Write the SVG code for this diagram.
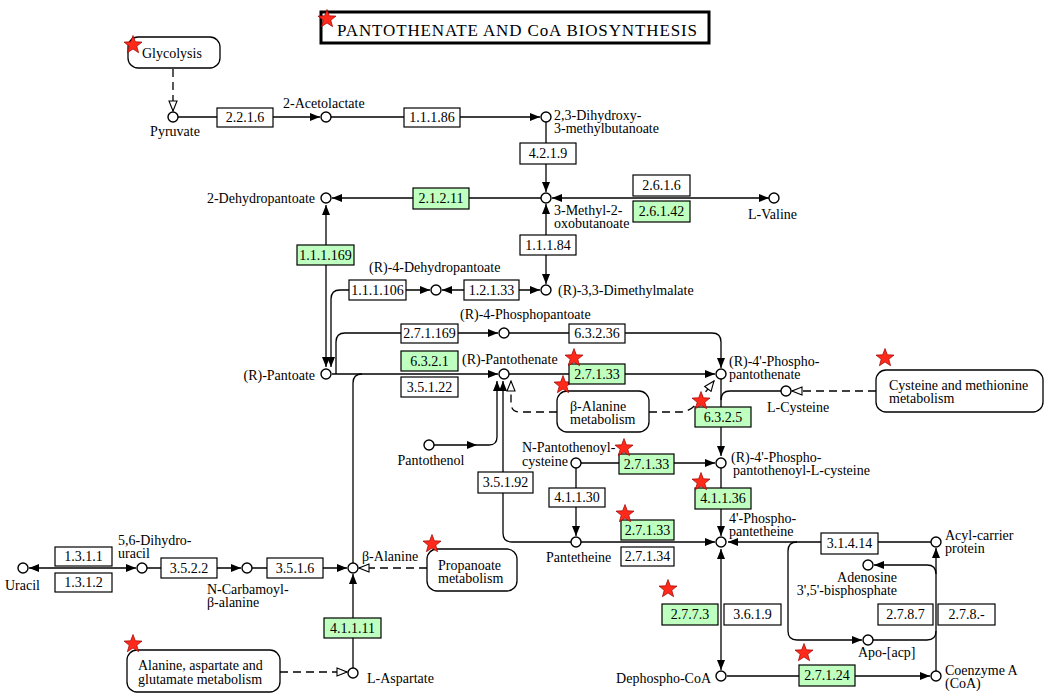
<svg xmlns="http://www.w3.org/2000/svg" xmlns:xlink="http://www.w3.org/1999/xlink" width="1050" height="698" viewBox="0 0 1050 698">
<style>
text{font-family:"Liberation Serif","Times New Roman",serif;font-size:14px;fill:#000}
.c{text-anchor:middle}
.e{text-anchor:end}
.ln{fill:none;stroke:#000;stroke-width:1.3}
.ds{fill:none;stroke:#000;stroke-width:1.3;stroke-dasharray:8,5}
.cp{fill:#fff;stroke:#000;stroke-width:1.4}
.ez{fill:#fff;stroke:#000;stroke-width:1.2}
.g{fill:#bfffbf}
.mp{fill:#fff;stroke:#000;stroke-width:1.3}
.st{fill:#ff2a1a;stroke:#9a0000;stroke-width:0.7}
</style>
<defs>
<marker id="a" viewBox="0 0 10 8" refX="10" refY="4" markerWidth="10" markerHeight="8" markerUnits="userSpaceOnUse" orient="auto-start-reverse"><path d="M0,0L10,4L0,8z" fill="#000"/></marker>
<marker id="o" viewBox="0 0 12 10" refX="11" refY="5" markerWidth="12" markerHeight="10" markerUnits="userSpaceOnUse" orient="auto"><path d="M1,1L11,5L1,9z" fill="#fff" stroke="#000" stroke-width="1.1"/></marker>
<path id="star" class="st" d="M0,-9.5L2.35,-3.2L9,-2.9L3.8,1.25L5.6,7.7L0,4L-5.6,7.7L-3.8,1.25L-9,-2.9L-2.35,-3.2Z"/>
</defs>
<rect width="1050" height="698" fill="#fff"/>

<g id="connectors">
<path class="ds" d="M173,69V111" marker-end="url(#o)"/>
<path class="ln" d="M178,117H320" marker-end="url(#a)"/>
<path class="ln" d="M331,117H540" marker-end="url(#a)"/>
<path class="ln" d="M546,122V192" marker-end="url(#a)"/>
<path class="ln" d="M541,198H332" marker-end="url(#a)"/>
<path class="ln" d="M552,198H769" marker-start="url(#a)" marker-end="url(#a)"/>
<path class="ln" d="M326,205V367" marker-start="url(#a)" marker-end="url(#a)"/>
<path class="ln" d="M546,204V284" marker-start="url(#a)" marker-end="url(#a)"/>
<path class="ln" d="M442,290H540" marker-start="url(#a)" marker-end="url(#a)"/>
<path class="ln" d="M331,367V299Q331,290 340,290H430" marker-start="url(#a)" marker-end="url(#a)"/>
<path class="ln" d="M332,374H498" marker-end="url(#a)"/>
<path class="ln" d="M336,374V342Q336,333 345,333H498" marker-end="url(#a)"/>
<path class="ln" d="M509,333H712Q721,333 721,342V368" marker-end="url(#a)"/>
<path class="ln" d="M362,374Q353,374 353,383V563"/>
<path class="ln" d="M509,374H715" marker-end="url(#a)"/>
<path class="ln" d="M434,445H477" marker-end="url(#a)"/>
<path class="ln" d="M477,445H489Q497,445 497,437V381" marker-end="url(#a)"/>
<path class="ln" d="M571,542H512Q503,542 503,533V381" marker-end="url(#a)"/>
<path class="ds" d="M557,412H520Q511,412 511,403V381" marker-end="url(#o)"/>
<path class="ds" d="M649,412H680Q690,412 697,403L714,381" marker-end="url(#o)"/>
<path class="ln" d="M721,379V456" marker-end="url(#a)"/>
<path class="ln" d="M781,391H730Q721,391 721,400"/>
<path class="ds" d="M876,391H792" marker-end="url(#o)"/>
<path class="ln" d="M581,463H715" marker-end="url(#a)"/>
<path class="ln" d="M576,468V536" marker-end="url(#a)"/>
<path class="ln" d="M721,468V536" marker-end="url(#a)"/>
<path class="ln" d="M581,542H715" marker-end="url(#a)"/>
<path class="ln" d="M931,542H728" marker-end="url(#a)"/>
<path class="ln" d="M721,549V670" marker-start="url(#a)" marker-end="url(#a)"/>
<path class="ln" d="M797,542Q788,542 788,551V631Q788,640 797,640H862" marker-end="url(#a)"/>
<path class="ln" d="M873,640H927Q936,640 936,631"/>
<path class="ln" d="M936,574Q936,565 927,565H874" marker-end="url(#a)"/>
<path class="ln" d="M936,671V548" marker-end="url(#a)"/>
<path class="ln" d="M727,676H930" marker-end="url(#a)"/>
<path class="ln" d="M29,568H136" marker-start="url(#a)" marker-end="url(#a)"/>
<path class="ln" d="M147,568H241" marker-end="url(#a)"/>
<path class="ln" d="M252,568H347" marker-end="url(#a)"/>
<path class="ln" d="M353,668V574" marker-end="url(#a)"/>
<path class="ds" d="M427,568H359" marker-end="url(#o)"/>
<path class="ds" d="M280,672H347" marker-end="url(#o)"/>
</g>

<g id="title"><rect x="321" y="12" width="388" height="31" fill="#fff" stroke="#000" stroke-width="3"/><text x="337" y="36" style="font-size:17px" textLength="360" lengthAdjust="spacing">PANTOTHENATE AND CoA BIOSYNTHESIS</text><use href="#star" x="327" y="19"/></g>

<!-- map boxes -->
<g id="map-glycolysis"><rect class="mp" x="128" y="37" width="92" height="31" rx="10"/><text x="142" y="58">Glycolysis</text><use href="#star" x="133" y="45"/></g>
<g id="map-balanine"><rect class="mp" x="557" y="391" width="92" height="41" rx="10"/><text x="570" y="411">β-Alanine</text><text x="570" y="424">metabolism</text><use href="#star" x="563" y="385"/></g>
<g id="map-cysteine"><rect class="mp" x="876" y="370" width="167" height="42" rx="10"/><text x="889" y="390">Cysteine and methionine</text><text x="889" y="403">metabolism</text><use href="#star" x="885" y="358"/></g>
<g id="map-propanoate"><rect class="mp" x="427" y="549" width="90" height="42" rx="10"/><text x="438" y="570">Propanoate</text><text x="438" y="583">metabolism</text><use href="#star" x="432" y="544"/></g>
<g id="map-alanine"><rect class="mp" x="127" y="650" width="153" height="42" rx="10"/><text x="138" y="670">Alanine, aspartate and</text><text x="138" y="684">glutamate metabolism</text><use href="#star" x="133" y="644"/></g>

<!-- enzymes -->
<g id="ec-2.2.1.6"><rect class="ez" x="217" y="108" width="56" height="19"/><text class="c" x="245" y="122">2.2.1.6</text></g>
<g id="ec-1.1.1.86"><rect class="ez" x="404" y="108" width="56" height="19"/><text class="c" x="432" y="122">1.1.1.86</text></g>
<g id="ec-4.2.1.9"><rect class="ez" x="520" y="143" width="56" height="21"/><text class="c" x="548" y="158">4.2.1.9</text></g>
<g id="ec-2.6.1.6"><rect class="ez" x="633" y="175" width="57" height="21"/><text class="c" x="661.5" y="190">2.6.1.6</text></g>
<g id="ec-2.6.1.42"><rect class="ez g" x="633" y="201" width="57" height="21"/><text class="c" x="661.5" y="216">2.6.1.42</text></g>
<g id="ec-2.1.2.11"><rect class="ez g" x="413" y="188" width="56" height="21"/><text class="c" x="441" y="203">2.1.2.11</text></g>
<g id="ec-1.1.1.169"><rect class="ez g" x="297" y="245" width="57" height="20"/><text class="c" x="325.5" y="260">1.1.1.169</text></g>
<g id="ec-1.1.1.84"><rect class="ez" x="520" y="235" width="56" height="20"/><text class="c" x="548" y="250">1.1.1.84</text></g>
<g id="ec-1.1.1.106"><rect class="ez" x="349" y="280" width="57" height="20"/><text class="c" x="377.5" y="295">1.1.1.106</text></g>
<g id="ec-1.2.1.33"><rect class="ez" x="464" y="280" width="55" height="20"/><text class="c" x="491.5" y="295">1.2.1.33</text></g>
<g id="ec-2.7.1.169"><rect class="ez" x="401" y="324" width="57" height="19"/><text class="c" x="429.5" y="338">2.7.1.169</text></g>
<g id="ec-6.3.2.36"><rect class="ez" x="569" y="324" width="56" height="19"/><text class="c" x="597" y="338">6.3.2.36</text></g>
<g id="ec-6.3.2.1"><rect class="ez g" x="401" y="351" width="57" height="20"/><text class="c" x="429.5" y="366">6.3.2.1</text></g>
<g id="ec-3.5.1.22"><rect class="ez" x="401" y="377" width="57" height="20"/><text class="c" x="429.5" y="392">3.5.1.22</text></g>
<g id="ec-2.7.1.33-a"><rect class="ez g" x="569" y="364" width="56" height="20"/><text class="c" x="597" y="379">2.7.1.33</text><use href="#star" x="574" y="358"/></g>
<g id="ec-6.3.2.5"><rect class="ez g" x="695" y="407" width="56" height="20"/><text class="c" x="723" y="422">6.3.2.5</text><use href="#star" x="701" y="401"/></g>
<g id="ec-2.7.1.33-b"><rect class="ez g" x="619" y="454" width="55" height="20"/><text class="c" x="646.5" y="469">2.7.1.33</text><use href="#star" x="624" y="448"/></g>
<g id="ec-4.1.1.30"><rect class="ez" x="549" y="488" width="56" height="19"/><text class="c" x="577" y="502">4.1.1.30</text></g>
<g id="ec-3.5.1.92"><rect class="ez" x="478" y="472" width="55" height="21"/><text class="c" x="505.5" y="487">3.5.1.92</text></g>
<g id="ec-4.1.1.36"><rect class="ez g" x="695" y="488" width="56" height="21"/><text class="c" x="723" y="503">4.1.1.36</text><use href="#star" x="701" y="482"/></g>
<g id="ec-2.7.1.33-c"><rect class="ez g" x="621" y="520" width="53" height="20"/><text class="c" x="647.5" y="535">2.7.1.33</text><use href="#star" x="625" y="514"/></g>
<g id="ec-2.7.1.34"><rect class="ez" x="621" y="547" width="53" height="19"/><text class="c" x="647.5" y="561">2.7.1.34</text></g>
<g id="ec-3.1.4.14"><rect class="ez" x="821" y="533" width="57" height="21"/><text class="c" x="849.5" y="548">3.1.4.14</text></g>
<g id="ec-2.7.7.3"><rect class="ez g" x="662" y="604" width="56" height="21"/><text class="c" x="690" y="619">2.7.7.3</text><use href="#star" x="668" y="589"/></g>
<g id="ec-3.6.1.9"><rect class="ez" x="724" y="604" width="57" height="21"/><text class="c" x="752.5" y="619">3.6.1.9</text></g>
<g id="ec-2.7.8.7"><rect class="ez" x="878" y="604" width="55" height="21"/><text class="c" x="905.5" y="619">2.7.8.7</text></g>
<g id="ec-2.7.8.-"><rect class="ez" x="938" y="604" width="57" height="21"/><text class="c" x="966.5" y="619">2.7.8.-</text></g>
<g id="ec-2.7.1.24"><rect class="ez g" x="799" y="665" width="56" height="21"/><text class="c" x="827" y="680">2.7.1.24</text><use href="#star" x="804" y="653"/></g>
<g id="ec-1.3.1.1"><rect class="ez" x="55" y="547" width="57" height="19"/><text class="c" x="83.5" y="561">1.3.1.1</text></g>
<g id="ec-1.3.1.2"><rect class="ez" x="55" y="573" width="57" height="19"/><text class="c" x="83.5" y="587">1.3.1.2</text></g>
<g id="ec-3.5.2.2"><rect class="ez" x="161" y="558" width="56" height="20"/><text class="c" x="189" y="573">3.5.2.2</text></g>
<g id="ec-3.5.1.6"><rect class="ez" x="267" y="558" width="56" height="20"/><text class="c" x="295" y="573">3.5.1.6</text></g>
<g id="ec-4.1.1.11"><rect class="ez g" x="324" y="618" width="57" height="20"/><text class="c" x="352.5" y="633">4.1.1.11</text></g>

<!-- compounds -->
<g id="c-pyruvate"><circle class="cp" cx="173" cy="117" r="5"/><text class="c" x="175" y="136">Pyruvate</text></g>
<g id="c-acetolactate"><circle class="cp" cx="326" cy="117" r="5"/><text x="283" y="108">2-Acetolactate</text></g>
<g id="c-dihydroxy"><circle class="cp" cx="546" cy="117" r="5"/><text x="554" y="120">2,3-Dihydroxy-</text><text x="554" y="133">3-methylbutanoate</text></g>
<g id="c-methyloxo"><circle class="cp" cx="546" cy="198" r="5"/><text x="554" y="215">3-Methyl-2-</text><text x="554" y="228">oxobutanoate</text></g>
<g id="c-valine"><circle class="cp" cx="774" cy="198" r="5"/><text x="748" y="219">L-Valine</text></g>
<g id="c-dehydropantoate"><circle class="cp" cx="326" cy="198" r="5"/><text class="e" x="315" y="203">2-Dehydropantoate</text></g>
<g id="c-dimethylmalate"><circle class="cp" cx="546" cy="290" r="5"/><text x="558" y="295">(R)-3,3-Dimethylmalate</text></g>
<g id="c-4-dehydropantoate"><circle class="cp" cx="436" cy="290" r="5"/><text x="369" y="272">(R)-4-Dehydropantoate</text></g>
<g id="c-phosphopantoate"><circle class="cp" cx="504" cy="333" r="5"/><text x="460" y="319">(R)-4-Phosphopantoate</text></g>
<g id="c-pantoate"><circle class="cp" cx="326" cy="374" r="5"/><text class="e" x="315" y="380">(R)-Pantoate</text></g>
<g id="c-pantothenate"><circle class="cp" cx="504" cy="374" r="5"/><text x="462" y="364">(R)-Pantothenate</text></g>
<g id="c-phosphopantothenate"><circle class="cp" cx="721" cy="374" r="5"/><text x="729" y="366">(R)-4'-Phospho-</text><text x="729" y="379">pantothenate</text></g>
<g id="c-cysteine"><circle class="cp" cx="786" cy="391" r="5"/><text x="767" y="412">L-Cysteine</text></g>
<g id="c-pantothenol"><circle class="cp" cx="429" cy="445" r="5"/><text class="c" x="431" y="465">Pantothenol</text></g>
<g id="c-npantothenoylcysteine"><circle class="cp" cx="576" cy="463" r="5"/><text x="522" y="452">N-Pantothenoyl-</text><text x="522" y="466">cysteine</text></g>
<g id="c-phosphopantothenoylcysteine"><circle class="cp" cx="721" cy="463" r="5"/><text x="731" y="462">(R)-4'-Phospho-</text><text x="733" y="475">pantothenoyl-L-cysteine</text></g>
<g id="c-pantetheine"><circle class="cp" cx="576" cy="542" r="5"/><text x="546" y="562">Pantetheine</text></g>
<g id="c-phosphopantetheine"><circle class="cp" cx="721" cy="542" r="5"/><text x="729" y="523">4'-Phospho-</text><text x="729" y="536">pantetheine</text></g>
<g id="c-acp"><circle class="cp" cx="936" cy="542" r="5"/><text x="945" y="540">Acyl-carrier</text><text x="945" y="553">protein</text></g>
<g id="c-pap"><circle class="cp" cx="868" cy="565" r="5"/><text class="e" x="897" y="582">Adenosine</text><text class="e" x="897" y="595">3',5'-bisphosphate</text></g>
<g id="c-apoacp"><circle class="cp" cx="868" cy="640" r="5"/><text x="858" y="657">Apo-[acp]</text></g>
<g id="c-dephosphocoa"><circle class="cp" cx="721" cy="676" r="5"/><text class="e" x="711" y="683">Dephospho-CoA</text></g>
<g id="c-coa"><circle class="cp" cx="936" cy="676" r="5"/><text x="945" y="675">Coenzyme A</text><text x="945" y="688">(CoA)</text></g>
<g id="c-uracil"><circle class="cp" cx="23" cy="568" r="5"/><text x="5" y="590">Uracil</text></g>
<g id="c-dihydrouracil"><circle class="cp" cx="142" cy="568" r="5"/><text x="118" y="545">5,6-Dihydro-</text><text x="118" y="558">uracil</text></g>
<g id="c-carbamoyl"><circle class="cp" cx="247" cy="568" r="5"/><text x="207" y="594">N-Carbamoyl-</text><text x="207" y="607">β-alanine</text></g>
<g id="c-balanine"><circle class="cp" cx="353" cy="568" r="5"/><text x="362" y="561">β-Alanine</text></g>
<g id="c-aspartate"><circle class="cp" cx="353" cy="673" r="5"/><text x="367" y="683">L-Aspartate</text></g>
</svg>
